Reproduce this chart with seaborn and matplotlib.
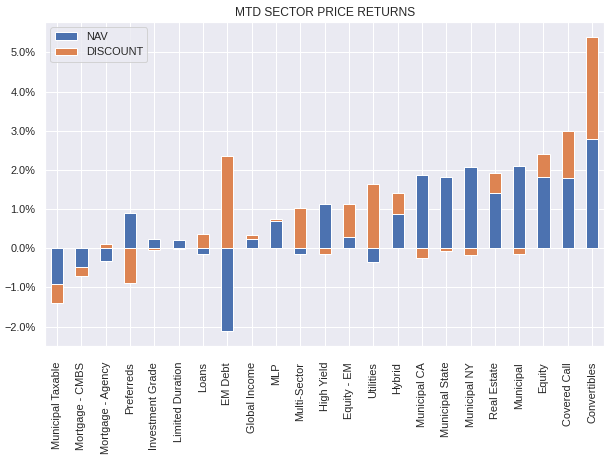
import pandas as pd
import matplotlib
matplotlib.use("Agg")
import matplotlib.pyplot as plt
from matplotlib.ticker import PercentFormatter
import seaborn as sns

# MTD price returns by sector, in percent
sectors = ["Municipal Taxable", "Mortgage - CMBS", "Mortgage - Agency", "Preferreds",
           "Investment Grade", "Limited Duration", "Loans", "EM Debt", "Global Income",
           "MLP", "Multi-Sector", "High Yield", "Equity - EM", "Utilities", "Hybrid",
           "Municipal CA", "Municipal State", "Municipal NY", "Real Estate", "Municipal",
           "Equity", "Covered Call", "Convertibles"]
nav = [-0.91, -0.47, -0.34, 0.89, 0.23, 0.20, -0.14, -2.12, 0.23, 0.69, -0.16,
       1.14, 0.28, -0.35, 0.86, 1.86, 1.81, 2.06, 1.40, 2.11, 1.81, 1.78, 2.78]
discount = [-0.50, -0.25, 0.10, -0.90, -0.05, -0.03, 0.36, 2.36, 0.10, 0.05, 1.02,
            -0.14, 0.84, 1.65, 0.54, -0.26, -0.06, -0.17, 0.51, -0.14, 0.60, 1.22, 2.62]

sns.set_theme(style="darkgrid")
plt.rcParams["font.family"] = ["Liberation Sans", "DejaVu Sans"]

df = pd.DataFrame({"NAV": nav, "DISCOUNT": discount}, index=sectors)

fig, ax = plt.subplots(figsize=(616 / 72, 457 / 72), dpi=72)
df.plot(kind="bar", stacked=True, ax=ax, color=sns.color_palette("deep")[:2])
ax.yaxis.set_major_formatter(PercentFormatter(100, decimals=1))
ax.tick_params(axis="x", pad=10)
ax.set_title("MTD SECTOR PRICE RETURNS")
ax.legend(loc="upper left")
fig.subplots_adjust(left=0.073, right=0.981, top=0.952, bottom=0.243)
fig.savefig("out.png", dpi=72)
